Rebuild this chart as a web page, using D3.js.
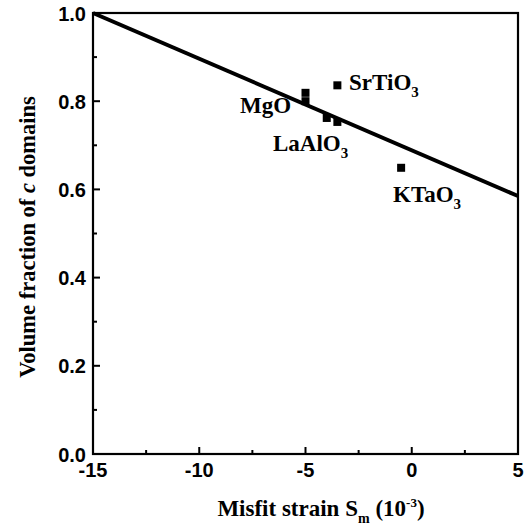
<!DOCTYPE html>
<html><head><meta charset="utf-8">
<script src="https://cdn.jsdelivr.net/npm/d3@7"></script>
<style>body{margin:0;background:#fff}</style>
</head><body>
<svg id="c" width="531" height="527"></svg>
<script>
// Data
const lineX = [-15, 5];
const lineY = [1.0, 0.585];
const pointNames = ["MgO", "MgO", "SrTiO3", "LaAlO3", "LaAlO3", "KTaO3"];
const pointX = [-5, -5, -3.5, -4, -3.5, -0.5];
const pointY = [0.819, 0.800, 0.836, 0.762, 0.753, 0.649];
const labelNames = ["SrTiO", "MgO", "LaAlO", "KTaO"];
const labelSub = ["3", "", "3", "3"];
const labelAnchor = ["start", "end", "start", "start"];
const labelX = [-2.95, -5.68, -6.53, -0.88];
const labelY = [0.825, 0.773, 0.687, 0.571];
const xTicks = [-15, -10, -5, 0, 5];
const xMinor = [-12.5, -7.5, -2.5, 2.5];
const yTicks = [0.0, 0.2, 0.4, 0.6, 0.8, 1.0];
const yMinor = [0.1, 0.3, 0.5, 0.7, 0.9];

const svg = d3.select("#c");
const L = 93, R = 518, T = 13, B = 454;
const x = d3.scaleLinear().domain([-15, 5]).range([L, R]);
const y = d3.scaleLinear().domain([0, 1]).range([B, T]);

// frame
svg.append("rect").attr("x", L).attr("y", T).attr("width", R - L).attr("height", B - T)
  .attr("fill", "none").attr("stroke", "#000").attr("stroke-width", 2.2);

// ticks (inward)
const g = svg.append("g").attr("stroke", "#000").attr("stroke-width", 2);
xTicks.forEach(v => g.append("line").attr("x1", x(v)).attr("x2", x(v)).attr("y1", B).attr("y2", B - 7));
xMinor.forEach(v => g.append("line").attr("x1", x(v)).attr("x2", x(v)).attr("y1", B).attr("y2", B - 4));
yTicks.forEach(v => g.append("line").attr("x1", L).attr("x2", L + 7).attr("y1", y(v)).attr("y2", y(v)));
yMinor.forEach(v => g.append("line").attr("x1", L).attr("x2", L + 4).attr("y1", y(v)).attr("y2", y(v)));

// tick labels
const tickFont = "'Liberation Sans', Arial, sans-serif";
xTicks.forEach(v => svg.append("text").attr("x", x(v)).attr("y", B + 23).attr("text-anchor", "middle")
  .attr("font-family", tickFont).attr("font-weight", "bold").attr("font-size", 20).text(v));
yTicks.forEach(v => svg.append("text").attr("x", L - 7).attr("y", y(v) + 7.5).attr("text-anchor", "end")
  .attr("font-family", tickFont).attr("font-weight", "bold").attr("font-size", 20).text(v.toFixed(1)));

// fitted line
svg.append("path").datum(lineX.map((d, i) => [d, lineY[i]]))
  .attr("d", d3.line().x(d => x(d[0])).y(d => y(d[1])))
  .attr("fill", "none").attr("stroke", "#000").attr("stroke-width", 4);

// points
const s = 8;
svg.selectAll("rect.pt").data(pointX.map((d, i) => [d, pointY[i]])).enter().append("rect")
  .attr("class", "pt").attr("x", d => x(d[0]) - s / 2).attr("y", d => y(d[1]) - s / 2)
  .attr("width", s).attr("height", s).attr("fill", "#000");

// labels
const serif = "'Liberation Serif', 'Times New Roman', serif";
labelNames.forEach((n, i) => {
  const t = svg.append("text").attr("x", x(labelX[i])).attr("y", y(labelY[i]))
    .attr("text-anchor", labelAnchor[i])
    .attr("font-family", serif).attr("font-weight", "bold").attr("font-size", 23);
  t.append("tspan").text(n);
  if (labelSub[i]) t.append("tspan").attr("dy", 7).attr("font-size", 15).text(labelSub[i]);
});

// axis titles
const xt = svg.append("text").attr("x", 321).attr("y", 516).attr("text-anchor", "middle")
  .attr("font-family", serif).attr("font-weight", "bold").attr("font-size", 23);
xt.append("tspan").text("Misfit strain S");
xt.append("tspan").attr("dy", 7).attr("font-size", 14).text("m");
xt.append("tspan").attr("dy", -7).text(" (10");
xt.append("tspan").attr("dy", -9).attr("font-size", 13).text("-3");
xt.append("tspan").attr("dy", 9).text(")");

const yt = svg.append("text").attr("transform", `translate(35,237) rotate(-90)`)
  .attr("text-anchor", "middle").attr("font-family", serif).attr("font-weight", "bold").attr("font-size", 22.5);
yt.append("tspan").text("Volume fraction of ");
yt.append("tspan").attr("font-style", "italic").text("c");
yt.append("tspan").text(" domains");
</script>
</body></html>
